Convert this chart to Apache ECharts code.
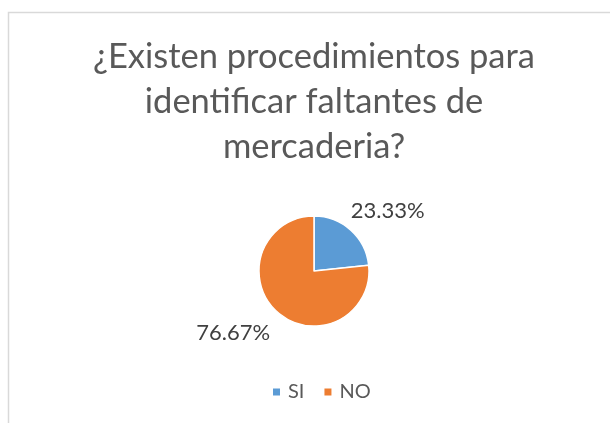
<!DOCTYPE html>
<html>
<head>
<meta charset="utf-8">
<script src="https://cdn.jsdelivr.net/npm/echarts@6/dist/echarts.min.js"></script>
<style>
html,body{margin:0;padding:0;background:#fff;}
#chart{width:610px;height:423px;}
</style>
</head>
<body>
<div id="chart"></div>
<script>
const titleText = "¿Existen procedimientos para\nidentificar faltantes de\nmercaderia?";
const categories = ["SI", "NO"];
const values = [23.33, 76.67];
const colors = ["#5B9BD5", "#ED7D31"];

const FONT = "Lato";
const chart = echarts.init(document.getElementById('chart'), null, {renderer: 'canvas'});

const option = {
  backgroundColor: '#ffffff',
  animation: false,
  graphic: [{
    type: 'rect',
    silent: true,
    shape: {x: 8.5, y: 12.5, width: 700, height: 500},
    style: {fill: 'none', stroke: '#d9d9d9', lineWidth: 1.5},
    z: 0
  }],
  title: {
    text: titleText,
    left: 314,
    top: 34,
    padding: 0,
    textAlign: 'center',
    textStyle: {
      fontFamily: FONT,
      fontSize: 34.5,
      fontWeight: 'normal',
      color: '#595959',
      lineHeight: 45
    }
  },
  legend: {
    data: categories,
    left: 271,
    top: 382,
    padding: 0,
    icon: 'rect',
    itemWidth: 9,
    itemHeight: 9,
    itemGap: 18,
    textStyle: {
      fontFamily: FONT,
      fontSize: 20,
      lineHeight: 20,
      color: '#595959',
      padding: [0, 0, 0, 2]
    }
  },
  series: [{
    type: 'pie',
    center: [314, 271],
    radius: 55,
    startAngle: 90,
    clockwise: true,
    data: categories.map((c, i) => ({name: c, value: values[i], itemStyle: {color: colors[i]}})),
    itemStyle: {borderColor: '#ffffff', borderWidth: 1.5},
    label: {
      show: true,
      position: 'outside',
      formatter: p => p.value.toFixed(2) + '%',
      fontFamily: FONT,
      fontSize: 22,
      color: '#404040'
    },
    labelLine: {show: false, length: 0, length2: 0},
    labelLayout: function (params) {
      return params.dataIndex === 0 ? {dx: -5, dy: -19} : {dx: -2, dy: 21};
    },
    emphasis: {disabled: true}
  }]
};
chart.setOption(option);
</script>
</body>
</html>
